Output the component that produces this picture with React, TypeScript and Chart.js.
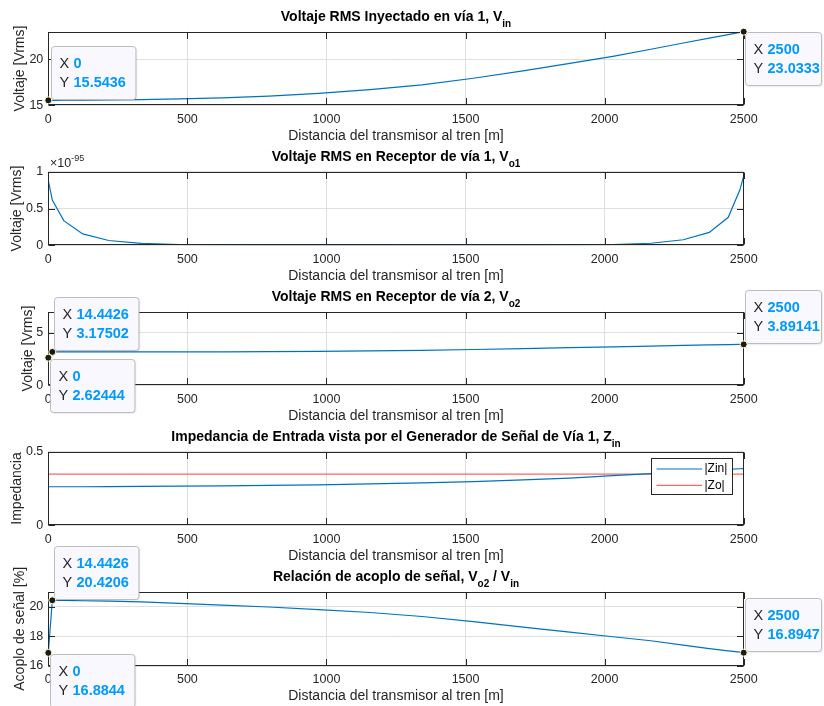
import { useEffect, useRef } from 'react';
import { Chart, registerables } from 'chart.js';

Chart.register(...registerables);

const FIG_W = 824;
const FIG_H = 706;
const AX_LEFT = 48.3;
const AX_RIGHT = 743.7;
const X_AXIS_H = 26;
const FONT = '"Liberation Sans", Arial, Helvetica, sans-serif';
const INK = '#262626';
const GRID = '#DFDFDF';
const BLUE = '#0072BD';
const RED = '#FF6464';
const TIP_BLUE = '#0099FF';

// Distance from the transmitter to the train [m]
const distance = [
  0, 14.4426, 55.5, 123.8, 217.2, 333.7, 470.6, 625, 793.3, 971.8, 1156.6,
  1343.4, 1528.2, 1706.7, 1875, 2029.4, 2166.3, 2282.8, 2376.2, 2444.5, 2486, 2500,
];

// Injected RMS voltage on track 1 [Vrms]
const vIn = [
  15.5436, 15.545, 15.55, 15.56, 15.58, 15.63, 15.7, 15.82, 16.0, 16.3, 16.72,
  17.23, 17.95, 18.75, 19.57, 20.35, 21.12, 21.8, 22.34, 22.72, 22.95, 23.0333,
];

// Receiver voltage on track 1, mantissa of the 10^-95 scale
const VO1_EXPONENT = -95;
const vO1 = [
  0.88, 0.615, 0.335, 0.155, 0.065, 0.027, 0.011, 0.0045, 0.0018, 0.0009, 0.0006,
  0.0006, 0.0009, 0.0019, 0.0045, 0.011, 0.028, 0.075, 0.175, 0.38, 0.75, 0.94,
];

// Receiver voltage on track 2 [Vrms]
const vO2 = [
  2.62444, 3.17502, 3.174, 3.173, 3.172, 3.174, 3.175, 3.18, 3.195, 3.227, 3.277,
  3.331, 3.407, 3.491, 3.577, 3.657, 3.73, 3.791, 3.838, 3.867, 3.885, 3.89141,
];

// Input impedance seen by the generator, and the characteristic impedance
const zIn = [
  0.262, 0.262, 0.262, 0.262, 0.263, 0.264, 0.266, 0.268, 0.271, 0.275, 0.281,
  0.288, 0.297, 0.308, 0.321, 0.337, 0.351, 0.364, 0.373, 0.38, 0.384, 0.385,
];
const zOutDistance = [0, 2500];
const zOut = [0.348, 0.348];

// Signal coupling Vo2 / Vin [%]
const coupling = [
  16.8844, 20.4206, 20.41, 20.39, 20.36, 20.31, 20.22, 20.1, 19.97, 19.8, 19.6,
  19.33, 18.98, 18.62, 18.28, 17.97, 17.7, 17.4, 17.17, 17.02, 16.93, 16.8947,
];

const xTicks = [0, 500, 1000, 1500, 2000, 2500];
const vInTicks = [15, 20];
const vO1Ticks = [0, 0.5, 1];
const vO2Ticks = [0, 5];
const zTicks = [0, 0.5];
const couplingTicks = [16, 18, 20];

const X_LABEL = 'Distancia del transmisor al tren [m]';

type Seg = { text: string; sub?: boolean };
type Series = { label: string; x: number[]; y: number[]; color: string };
type Tip = { series: number; index: number; dx: number; dy: number };
type Panel = {
  top: number;
  bottom: number;
  yMin: number;
  yMax: number;
  yTicks: number[];
  title: Seg[];
  yLabel: string;
  yLabelX: number;
  series: Series[];
  tips: Tip[];
  legend?: boolean;
  exponent?: number;
};

const last = distance.length - 1;

const panels: Panel[] = [
  {
    top: 31.7, bottom: 105.3, yMin: 15, yMax: 23.0333, yTicks: vInTicks,
    title: [{ text: 'Voltaje RMS Inyectado en vía 1, V' }, { text: 'in', sub: true }],
    yLabel: 'Voltaje [Vrms]', yLabelX: 20,
    series: [{ label: 'Vin', x: distance, y: vIn, color: BLUE }],
    tips: [
      { series: 0, index: 0, dx: 2.4, dy: -54.3 },
      { series: 0, index: last, dx: 1.6, dy: 0.6 },
    ],
  },
  {
    top: 171.7, bottom: 245.3, yMin: 0, yMax: 1, yTicks: vO1Ticks,
    title: [{ text: 'Voltaje RMS en Receptor de vía 1, V' }, { text: 'o1', sub: true }],
    yLabel: 'Voltaje [Vrms]', yLabelX: 17.5,
    series: [{ label: 'Vo1', x: distance, y: vO1, color: BLUE }],
    tips: [],
    exponent: VO1_EXPONENT,
  },
  {
    top: 311.7, bottom: 385.3, yMin: 0, yMax: 7, yTicks: vO2Ticks,
    title: [{ text: 'Voltaje RMS en Receptor de vía 2, V' }, { text: 'o2', sub: true }],
    yLabel: 'Voltaje [Vrms]', yLabelX: 28.3,
    series: [{ label: 'Vo2', x: distance, y: vO2, color: BLUE }],
    tips: [
      { series: 0, index: 1, dx: 2, dy: -55 },
      { series: 0, index: 0, dx: 1.7, dy: 1.7 },
      { series: 0, index: last, dx: 1.3, dy: -54 },
    ],
  },
  {
    top: 451.7, bottom: 525.3, yMin: 0, yMax: 0.5, yTicks: zTicks,
    title: [
      { text: 'Impedancia de Entrada vista por el Generador de Señal de Vía 1, Z' },
      { text: 'in', sub: true },
    ],
    yLabel: 'Impedancia', yLabelX: 17.5,
    series: [
      { label: '|Zin|', x: distance, y: zIn, color: BLUE },
      { label: '|Zo|', x: zOutDistance, y: zOut, color: RED },
    ],
    tips: [],
    legend: true,
  },
  {
    top: 591.7, bottom: 666, yMin: 16, yMax: 21, yTicks: couplingTicks,
    title: [
      { text: 'Relación de acoplo de señal, V' },
      { text: 'o2', sub: true },
      { text: ' / V' },
      { text: 'in', sub: true },
    ],
    yLabel: 'Acoplo de señal [%]', yLabelX: 20.5,
    series: [{ label: 'Acoplo', x: distance, y: coupling, color: BLUE }],
    tips: [
      { series: 0, index: 1, dx: 2, dy: -54.3 },
      { series: 0, index: 0, dx: 1.7, dy: 1.6 },
      { series: 0, index: last, dx: 1.3, dy: -54.4 },
    ],
  },
];

function roundRect(ctx: CanvasRenderingContext2D, x: number, y: number, w: number, h: number, r: number) {
  ctx.beginPath();
  ctx.moveTo(x + r, y);
  ctx.lineTo(x + w - r, y);
  ctx.arcTo(x + w, y, x + w, y + r, r);
  ctx.lineTo(x + w, y + h - r);
  ctx.arcTo(x + w, y + h, x + w - r, y + h, r);
  ctx.lineTo(x + r, y + h);
  ctx.arcTo(x, y + h, x, y + h - r, r);
  ctx.lineTo(x, y + r);
  ctx.arcTo(x, y, x + r, y, r);
  ctx.closePath();
}

function drawTitle(ctx: CanvasRenderingContext2D, segs: Seg[], cx: number, baseline: number) {
  const main = `bold 14px ${FONT}`;
  const sub = `bold 10px ${FONT}`;
  let total = 0;
  const widths = segs.map((s) => {
    ctx.font = s.sub ? sub : main;
    const w = ctx.measureText(s.text).width;
    total += w;
    return w;
  });
  let x = cx - total / 2;
  ctx.textAlign = 'left';
  ctx.textBaseline = 'alphabetic';
  ctx.fillStyle = '#000';
  segs.forEach((s, i) => {
    ctx.font = s.sub ? sub : main;
    ctx.fillText(s.text, x, s.sub ? baseline + 6 : baseline);
    x += widths[i];
  });
}

function decorations(panel: Panel) {
  return {
    id: 'matlabDecor',
    afterDraw(chart: any) {
      const { ctx, chartArea: a, scales } = chart;
      const xs = scales.x;
      const ys = scales.y;
      const L = Math.round(a.left) + 0.5;
      const R = Math.round(a.right) - 0.5;
      const T = Math.round(a.top) + 0.5;
      const B = Math.round(a.bottom) - 0.5;
      const TL = 6.5;
      ctx.save();

      // inward tick marks on all four sides
      ctx.strokeStyle = INK;
      ctx.lineWidth = 1;
      ctx.beginPath();
      xTicks.forEach((v) => {
        const px = Math.round(xs.getPixelForValue(v)) + 0.5;
        ctx.moveTo(px, B);
        ctx.lineTo(px, B - TL);
        ctx.moveTo(px, T);
        ctx.lineTo(px, T + TL);
      });
      panel.yTicks.forEach((v) => {
        const py = Math.round(ys.getPixelForValue(v)) + 0.5;
        ctx.moveTo(L, py);
        ctx.lineTo(L + TL, py);
        ctx.moveTo(R, py);
        ctx.lineTo(R - TL, py);
      });
      ctx.stroke();
      ctx.strokeRect(L, T, R - L, B - T);

      // title
      drawTitle(ctx, panel.title, (a.left + a.right) / 2, a.top - 11);

      // axis labels
      ctx.fillStyle = INK;
      ctx.font = `14px ${FONT}`;
      ctx.textAlign = 'center';
      ctx.textBaseline = 'middle';
      ctx.fillText(X_LABEL, (a.left + a.right) / 2, a.bottom + 30.5);
      ctx.save();
      ctx.translate(panel.yLabelX, (a.top + a.bottom) / 2);
      ctx.rotate(-Math.PI / 2);
      ctx.fillText(panel.yLabel, 0, 0);
      ctx.restore();

      // exponent multiplier of the y axis
      if (panel.exponent !== undefined) {
        ctx.textAlign = 'left';
        ctx.textBaseline = 'alphabetic';
        ctx.font = `12.5px ${FONT}`;
        const base = '\u00D710';
        ctx.fillText(base, a.left + 1.7, a.top - 5);
        const w = ctx.measureText(base).width;
        ctx.font = `9px ${FONT}`;
        ctx.fillText(String(panel.exponent), a.left + 1.7 + w, a.top - 11);
      }

      // legend
      if (panel.legend) {
        const lx = Math.round(a.right - 92.4) + 0.5;
        const ly = Math.round(a.top + 6) + 0.5;
        const lw = 81;
        const lh = 36;
        ctx.fillStyle = '#fff';
        ctx.fillRect(lx, ly, lw, lh);
        ctx.strokeStyle = INK;
        ctx.lineWidth = 1;
        ctx.strokeRect(lx, ly, lw, lh);
        ctx.font = `12px ${FONT}`;
        ctx.textAlign = 'left';
        ctx.textBaseline = 'middle';
        panel.series.forEach((s, i) => {
          const yy = ly + 10.5 + i * 16.3;
          ctx.strokeStyle = s.color;
          ctx.lineWidth = 1.2;
          ctx.beginPath();
          ctx.moveTo(lx + 5, yy);
          ctx.lineTo(lx + 50.5, yy);
          ctx.stroke();
          ctx.fillStyle = '#000';
          ctx.fillText(s.label, lx + 53, yy);
        });
      }

      // data tips
      const marks: [number, number][] = [];
      panel.tips.forEach((tip) => {
        const s = panel.series[tip.series];
        const xv = s.x[tip.index];
        const yv = s.y[tip.index];
        const mx = xs.getPixelForValue(xv);
        const my = ys.getPixelForValue(yv);
        marks.push([mx, my]);
        const bx = Math.round(mx + tip.dx) + 0.5;
        const by = Math.round(my + tip.dy) + 0.5;
        const xt = String(xv);
        const yt = String(yv);
        ctx.font = `bold 14.5px ${FONT}`;
        const vw = Math.max(ctx.measureText(xt).width, ctx.measureText(yt).width);
        const bw = Math.min(22 + vw + 10, FIG_W - 2.5 - bx);
        const bh = 53;
        ctx.save();
        ctx.shadowColor = 'rgba(0,0,0,0.12)';
        ctx.shadowBlur = 2;
        ctx.shadowOffsetX = 1;
        ctx.shadowOffsetY = 1;
        roundRect(ctx, bx, by, bw, bh, 3);
        ctx.fillStyle = '#F8F8FE';
        ctx.fill();
        ctx.restore();
        roundRect(ctx, bx, by, bw, bh, 3);
        ctx.strokeStyle = '#BDBDBD';
        ctx.lineWidth = 1;
        ctx.stroke();
        ctx.textAlign = 'left';
        ctx.textBaseline = 'middle';
        [['X', xt], ['Y', yt]].forEach(([k, v], i) => {
          const ty = by + 17.5 + i * 18.7;
          ctx.font = `14.5px ${FONT}`;
          ctx.fillStyle = INK;
          ctx.fillText(k, bx + 8, ty);
          ctx.font = `bold 14.5px ${FONT}`;
          ctx.fillStyle = TIP_BLUE;
          ctx.fillText(v, bx + 22, ty);
        });
      });
      marks.forEach(([mx, my]) => {
        ctx.beginPath();
        ctx.arc(mx, my, 3.5, 0, Math.PI * 2);
        ctx.fillStyle = '#1A1A1A';
        ctx.fill();
        ctx.strokeStyle = '#FFFFD0';
        ctx.lineWidth = 1;
        ctx.stroke();
      });

      ctx.restore();
    },
  };
}

function buildChart(canvas: HTMLCanvasElement, panel: Panel) {
  const tickFont = { family: FONT, size: 12.5 };
  return new Chart(canvas, {
    type: 'line',
    data: {
      datasets: panel.series.map((s) => ({
        label: s.label,
        data: s.x.map((x, i) => ({ x, y: s.y[i] })),
        borderColor: s.color,
        borderWidth: 1.2,
        pointRadius: 0,
        fill: false,
        tension: 0,
      })),
    },
    options: {
      responsive: false,
      animation: false,
      devicePixelRatio: 1,
      events: [],
      layout: {
        padding: {
          left: 0,
          right: FIG_W - AX_RIGHT,
          top: panel.top,
          bottom: FIG_H - panel.bottom - X_AXIS_H,
        },
      },
      plugins: {
        legend: { display: false },
        title: { display: false },
        tooltip: { enabled: false },
      },
      scales: {
        x: {
          type: 'linear',
          min: 0,
          max: 2500,
          afterFit: (s: any) => {
            s.height = X_AXIS_H;
          },
          afterBuildTicks: (s: any) => {
            s.ticks = xTicks.map((value) => ({ value }));
          },
          grid: { color: GRID, lineWidth: 1, drawTicks: false },
          border: { display: false },
          ticks: {
            font: tickFont,
            color: INK,
            padding: 6.5,
            maxRotation: 0,
            autoSkip: false,
            callback: (v: any) => String(v),
          },
        },
        y: {
          type: 'linear',
          min: panel.yMin,
          max: panel.yMax,
          afterFit: (s: any) => {
            s.width = AX_LEFT;
          },
          afterBuildTicks: (s: any) => {
            s.ticks = panel.yTicks.map((value) => ({ value }));
          },
          grid: { color: GRID, lineWidth: 1, drawTicks: false },
          border: { display: false },
          ticks: {
            font: tickFont,
            color: INK,
            padding: 5,
            autoSkip: false,
            callback: (v: any) => String(v),
          },
        },
      },
    } as any,
    plugins: [decorations(panel)],
  });
}

function PanelCanvas({ panel }: { panel: Panel }) {
  const ref = useRef<HTMLCanvasElement>(null);
  useEffect(() => {
    if (!ref.current) return;
    const chart = buildChart(ref.current, panel);
    return () => chart.destroy();
  }, [panel]);
  return (
    <canvas
      ref={ref}
      width={FIG_W}
      height={FIG_H}
      style={{ position: 'absolute', left: 0, top: 0, width: FIG_W, height: FIG_H }}
    />
  );
}

export default function App() {
  return (
    <div
      style={{
        position: 'absolute',
        left: 0,
        top: 0,
        width: FIG_W,
        height: FIG_H,
        background: '#fff',
        overflow: 'hidden',
      }}
    >
      {panels.map((p, i) => (
        <PanelCanvas key={i} panel={p} />
      ))}
    </div>
  );
}
